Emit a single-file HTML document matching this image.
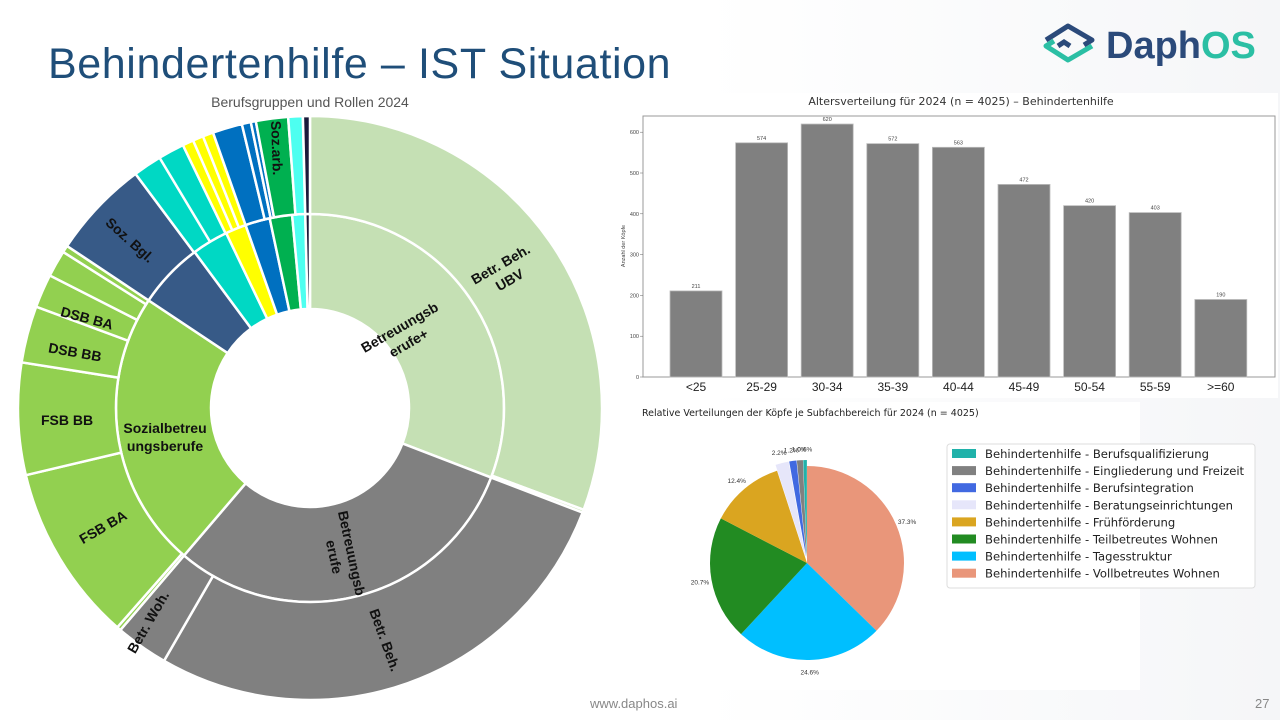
<!DOCTYPE html>
<html><head><meta charset="utf-8">
<style>
html,body{margin:0;padding:0;}
body{width:1280px;height:720px;position:relative;overflow:hidden;background:#fff;font-family:"Liberation Sans",sans-serif;}
.abs{position:absolute;}
</style></head><body>
<div class="abs" style="left:0;top:0;width:1280px;height:720px;background:linear-gradient(90deg,#ffffff 0%,#ffffff 55%,#f5f6f8 100%);"></div>
<div class="abs" style="left:48px;top:40px;font-size:43px;letter-spacing:0.6px;color:#1f4e79;font-family:'Liberation Sans',sans-serif;white-space:nowrap;">Behindertenhilfe – IST Situation</div>

<!-- logo -->
<svg class="abs" style="left:1040px;top:18px" width="240" height="50" viewBox="0 0 240 50">
 <path d="M6 22 L28 8 L52 22 L44 27" fill="none" stroke="#2b4a7a" stroke-width="5" stroke-linejoin="round"/>
 <path d="M18 28 L24 24 L30 28" fill="none" stroke="#2b4a7a" stroke-width="5"/>
 <path d="M52 28 L28 42 L6 28 L14 23" fill="none" stroke="#2bbfa4" stroke-width="5" stroke-linejoin="round"/>
 <text x="66" y="40" font-family="Liberation Sans,sans-serif" font-weight="bold" font-size="38" fill="#2b4a7a">Daph<tspan fill="#2bbfa4">OS</tspan></text>
</svg>

<!-- sunburst -->
<svg id="sb" class="abs" style="left:0;top:90px" width="620" height="630"></svg>

<!-- bar chart -->
<svg class="abs" style="left:615px;top:90px" width="665" height="310">
 <rect x="3" y="3" width="660" height="305" fill="#fff"/>
 <text x="346" y="15" font-size="11" text-anchor="middle" fill="#333" font-family="DejaVu Sans,sans-serif">Altersverteilung für 2024 (n = 4025) – Behindertenhilfe</text>
 <rect x="28" y="26" width="632" height="261" fill="#fff" stroke="#999" stroke-width="1"/>
 <g id="bars"></g>
</svg>

<!-- pie panel -->
<svg class="abs" style="left:630px;top:400px" width="640" height="300">
 <rect x="8" y="2" width="502" height="288" fill="#fff"/>
 <text x="12" y="16" font-size="9.5" fill="#222" font-family="DejaVu Sans,sans-serif">Relative Verteilungen der Köpfe je Subfachbereich für 2024 (n = 4025)</text>
 <g id="pie"></g>
 <rect x="317" y="44" width="308" height="144" rx="3" fill="#fff" stroke="#ddd"/>
 <g id="leg" font-family="DejaVu Sans,sans-serif" font-size="11.6" fill="#222"></g>
</svg>

<div class="abs" style="left:590px;top:696px;font-size:13px;color:#888;">www.daphos.ai</div>
<div class="abs" style="left:1255px;top:696px;font-size:13px;color:#888;">27</div>

<script>
var NS="http://www.w3.org/2000/svg";
function P(cx,cy,r,a){var t=(a-90)*Math.PI/180;return [cx+r*Math.cos(t),cy+r*Math.sin(t)];}
function arc(cx,cy,r0,r1,a0,a1){var l=(a1-a0)>180?1:0;var p1=P(cx,cy,r1,a0),p2=P(cx,cy,r1,a1),p3=P(cx,cy,r0,a1),p4=P(cx,cy,r0,a0);
 var d="M"+p1+" A"+r1+" "+r1+" 0 "+l+" 1 "+p2+" L"+p3;
 if(r0>0) d+=" A"+r0+" "+r0+" 0 "+l+" 0 "+p4; else d+=" L"+cx+","+cy;
 return d+"Z";}
function el(parent,tag,attrs,txt){var e=document.createElementNS(NS,tag);for(var k in attrs)e.setAttribute(k,attrs[k]);if(txt!=null)e.textContent=txt;parent.appendChild(e);return e;}

var sb=document.getElementById('sb');
el(sb,'text',{x:310,y:17,'font-size':14,'text-anchor':'middle',fill:'#555'},'Berufsgruppen und Rollen 2024');
var cx=310,cy=318,R0=99,R1=194,R2=292;
var inner=[[0,111,'#c5e0b4'],[111,220.5,'#808080'],[220.5,303.7,'#92d050'],[303.7,323.5,'#375a87'],[323.5,334.4,'#00d8c4'],[334.4,340.6,'#ffff00'],[340.6,348,'#0070c0'],[348,354.7,'#00b050'],[354.7,358.6,'#4dfff0'],[358.6,360,'#1a1a3a']];
var outer=[[0,110.4,'#c5e0b4'],[110.4,111,'#c5e0b4'],[111,210,'#808080'],[210,220.5,'#808080'],[220.5,221.3,'#92d050'],[221.3,256.7,'#92d050'],[256.7,279,'#92d050'],[279,290.3,'#92d050'],[290.3,297,'#92d050'],[297,302.3,'#92d050'],[302.3,303.7,'#92d050'],[303.7,323.3,'#375a87'],[323.3,329,'#00d8c4'],[329,334.2,'#00d8c4'],[334.2,336.4,'#ffff00'],[336.4,338.5,'#ffff00'],[338.5,340.6,'#ffff00'],[340.6,346.5,'#0070c0'],[346.5,348.3,'#0070c0'],[348.3,349.3,'#0070c0'],[349.3,355.7,'#00b050'],[355.7,358.6,'#4dfff0'],[358.6,360,'#1a1a3a']];
inner.forEach(function(s){el(sb,'path',{d:arc(cx,cy,R0,R1,s[0],s[1]),fill:s[2],stroke:'#fff','stroke-width':2.5});});
outer.forEach(function(s){el(sb,'path',{d:arc(cx,cy,R1,R2,s[0],s[1]),fill:s[2],stroke:'#fff','stroke-width':2.5});});
function lab(x,y,rot,lines,fs){var t=el(sb,'text',{transform:'translate('+x+','+(y-90)+') rotate('+rot+')','font-size':fs||15,'font-weight':'bold','text-anchor':'middle',fill:'#111','font-family':'Liberation Sans,sans-serif'});
 lines.forEach(function(l,i){el(t,'tspan',{x:0,dy:(i==0?(-(lines.length-1)*9+5):18)},l);});}
lab(404,335,-30,['Betreuungsb','erufe+'],14);
lab(505,272,-30,['Betr. Beh.','UBV'],14);
lab(343,555,78,['Betreuungsb','erufe'],14);
lab(385,640,70,['Betr. Beh.'],14);
lab(148,622,-60,['Betr. Woh.'],14);
lab(103,527,-30,['FSB BA'],14);
lab(67,420,0,['FSB BB'],14);
lab(75,352,10,['DSB BB'],14);
lab(87,318,15,['DSB BA'],14);
lab(130,240,42,['Soz. Bgl.'],14);
lab(277,148,88,['Soz.arb.'],14);
lab(165,437,0,['Sozialbetreu','ungsberufe'],14);

var g=document.getElementById('bars');
var vals=[211,574,620,572,563,472,420,403,190],labs=['<25','25-29','30-34','35-39','40-44','45-49','50-54','55-59','>=60'];
var base=287,sc=0.408;
[0,100,200,300,400,500,600].forEach(function(v){var y=base-v*sc;el(g,'text',{x:24,y:y+2,'font-size':5.5,'text-anchor':'end',fill:'#444'},v);el(g,'line',{x1:25,x2:28,y1:y,y2:y,stroke:'#666','stroke-width':0.5});});
el(g,'text',{transform:'translate(10,156) rotate(-90)','font-size':5.5,'text-anchor':'middle',fill:'#444'},'Anzahl der Köpfe');
vals.forEach(function(v,i){var c=81+i*65.6;var h=v*sc;el(g,'rect',{x:c-26,y:base-h,width:52,height:h,fill:'#808080',stroke:'#bbb','stroke-width':0.8});
 el(g,'text',{x:c,y:base-h-3,'font-size':5.5,'text-anchor':'middle',fill:'#444'},v);
 el(g,'text',{x:c,y:base+14,'font-size':12,'text-anchor':'middle',fill:'#222'},labs[i]);});

var pg=document.getElementById('pie');
var pcx=177,pcy=163,pr=97;
var sl=[[37.3,'#e9967a','37.3%'],[24.6,'#00bfff','24.6%'],[20.7,'#228b22','20.7%'],[12.4,'#daa520','12.4%'],[2.2,'#e6e6fa','2.2%'],[1.2,'#4169e1','1.2%'],[1.0,'#808080','1.0%'],[0.6,'#20b2aa','0.6%']];
var a=0;sl.forEach(function(s,i){var a1=a+s[0]*3.6;var ex=i>=4?6:0;var mid=(a+a1)/2;var o=P(0,0,ex,mid);
 el(pg,'path',{d:arc(pcx+o[0],pcy+o[1],0,pr,a,a1),fill:s[1]});
 var lp=P(pcx,pcy,pr*1.12+ex,mid);el(pg,'text',{x:lp[0],y:lp[1]+3,'font-size':6.5,'text-anchor':'middle',fill:'#333'},s[2]);
 a=a1;});
var lg=document.getElementById('leg');
var names=['Berufsqualifizierung','Eingliederung und Freizeit','Berufsintegration','Beratungseinrichtungen','Frühförderung','Teilbetreutes Wohnen','Tagesstruktur','Vollbetreutes Wohnen'];
var lc=['#20b2aa','#808080','#4169e1','#e6e6fa','#daa520','#228b22','#00bfff','#e9967a'];
names.forEach(function(n,i){var y=54+i*17.1;el(lg,'rect',{x:322,y:y-5,width:24,height:9,fill:lc[i]});el(lg,'text',{x:355,y:y+4},'Behindertenhilfe - '+n);});
</script>
</body></html>
